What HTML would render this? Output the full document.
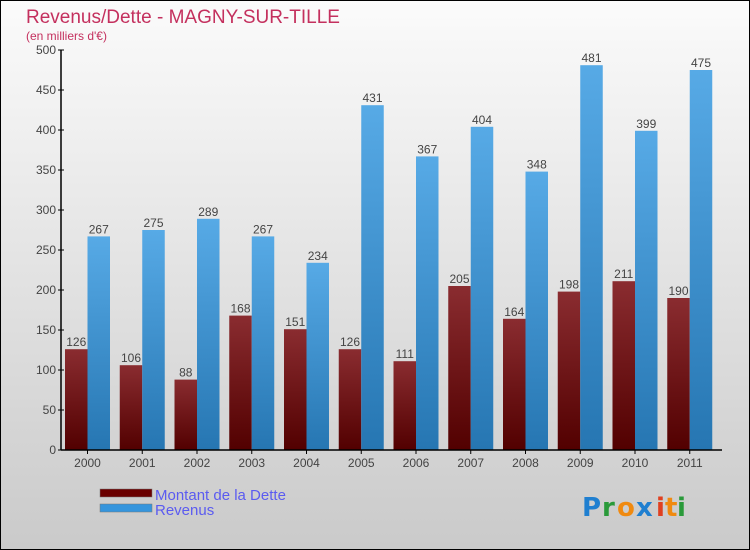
<!DOCTYPE html>
<html><head><meta charset="utf-8"><style>
body{margin:0}
#c{width:750px;height:550px;position:relative;overflow:hidden;font-family:"Liberation Sans",sans-serif}
</style></head><body>
<div id="c">
<svg id="s" width="750" height="550" xmlns="http://www.w3.org/2000/svg">
<defs>
<linearGradient id="bg" x1="0" y1="0" x2="0" y2="1"><stop offset="0" stop-color="#fbfbfb"/><stop offset="1" stop-color="#cacaca"/></linearGradient>
<linearGradient id="gd" x1="0" y1="0" x2="0" y2="1"><stop offset="0" stop-color="#8a2c30"/><stop offset="1" stop-color="#520000"/></linearGradient>
<linearGradient id="gr" x1="0" y1="0" x2="0" y2="1"><stop offset="0" stop-color="#57aae6"/><stop offset="1" stop-color="#2676b2"/></linearGradient>
</defs>
<rect x="0.5" y="0.5" width="749" height="549" fill="url(#bg)" stroke="#000"/>
<text x="26" y="23" font-size="19" fill="#c4305e" style="font-weight:300">Revenus/Dette - MAGNY-SUR-TILLE</text>
<text x="26" y="40" font-size="12" fill="#c4305e">(en milliers d'€)</text>
<g id="plot"></g>
<rect x="100" y="489" width="52" height="8" fill="#6a0000" stroke="#777" stroke-width="0.5"/>
<text x="155" y="500" font-size="15" fill="#5b5bf0">Montant de la Dette</text>
<rect x="100" y="504" width="52" height="8" fill="#3595dd" stroke="#777" stroke-width="0.5"/>
<text x="155" y="515" font-size="15" fill="#5b5bf0">Revenus</text>
<g font-size="26" font-weight="bold" font-family="'DejaVu Sans',sans-serif">
<text x="582" y="516" fill="#1f7fd0">P</text><text x="602" y="516" fill="#2a9a3a">r</text><text x="617" y="516" fill="#f08a10">o</text><text x="636" y="516" fill="#1f7fd0">x</text><text x="656" y="516" fill="#e04020">i</text><text x="665" y="516" fill="#f08a10">t</text><text x="677" y="516" fill="#2a9a3a">i</text>
</g>
</svg>
</div>
<script>
const years=["2000","2001","2002","2003","2004","2005","2006","2007","2008","2009","2010","2011"];
const dette=[126,106,88,168,151,126,111,205,164,198,211,190];
const revenus=[267,275,289,267,234,431,367,404,348,481,399,475];
const yTicks=[0,50,100,150,200,250,300,350,400,450,500];
const NS="http://www.w3.org/2000/svg";
const g=document.getElementById('plot');
const x0=61,x1=722,y0=450,y1=50,yMax=500;
const step=(x1-x0-4)/years.length;
function yS(v){return y0-(v/yMax)*(y0-y1);}
function xG(i){return x0+4+i*step;}
function el(t,a,p){const e=document.createElementNS(NS,t);for(const k in a)e.setAttribute(k,a[k]);(p||g).appendChild(e);return e;}
const bw=22.5;
years.forEach((yr,i)=>{
  const gx=xG(i);
  const d=el('rect',{x:gx,y:yS(dette[i]),width:bw,height:y0-yS(dette[i]),fill:'url(#gd)'});
  
  
  const r=el('rect',{x:gx+bw,y:yS(revenus[i]),width:bw,height:y0-yS(revenus[i]),fill:'url(#gr)'});
  
  
  const t1=el('text',{x:gx+bw/2,y:yS(dette[i])-3,'font-size':12,fill:'#444','text-anchor':'middle'});t1.textContent=dette[i];
  
  
  const t2=el('text',{x:gx+bw*1.5,y:yS(revenus[i])-3,'font-size':12,fill:'#444','text-anchor':'middle'});t2.textContent=revenus[i];
  
  
  const xl=el('text',{x:gx+bw,y:467,'font-size':12,fill:'#444','text-anchor':'middle'});xl.textContent=yr;
  
  
  el('line',{x1:gx+bw,x2:gx+bw,y1:y0,y2:y0+4,stroke:'#000'});
});
yTicks.forEach(v=>{
  el('line',{x1:x0-3,x2:x0+3,y1:yS(v),y2:yS(v),stroke:'#000'});
  const t=el('text',{x:x0-5,y:yS(v)+4,'font-size':12,fill:'#444','text-anchor':'end'});t.textContent=v;
  
  
});
const ya=el('line',{x1:x0,x2:x0,y1:y1,y2:y0,stroke:'#000','stroke-width':1.5});


const xa=el('line',{x1:x0,x2:x1,y1:y0,y2:y0,stroke:'#000','stroke-width':1.5});


</script>
</body></html>
